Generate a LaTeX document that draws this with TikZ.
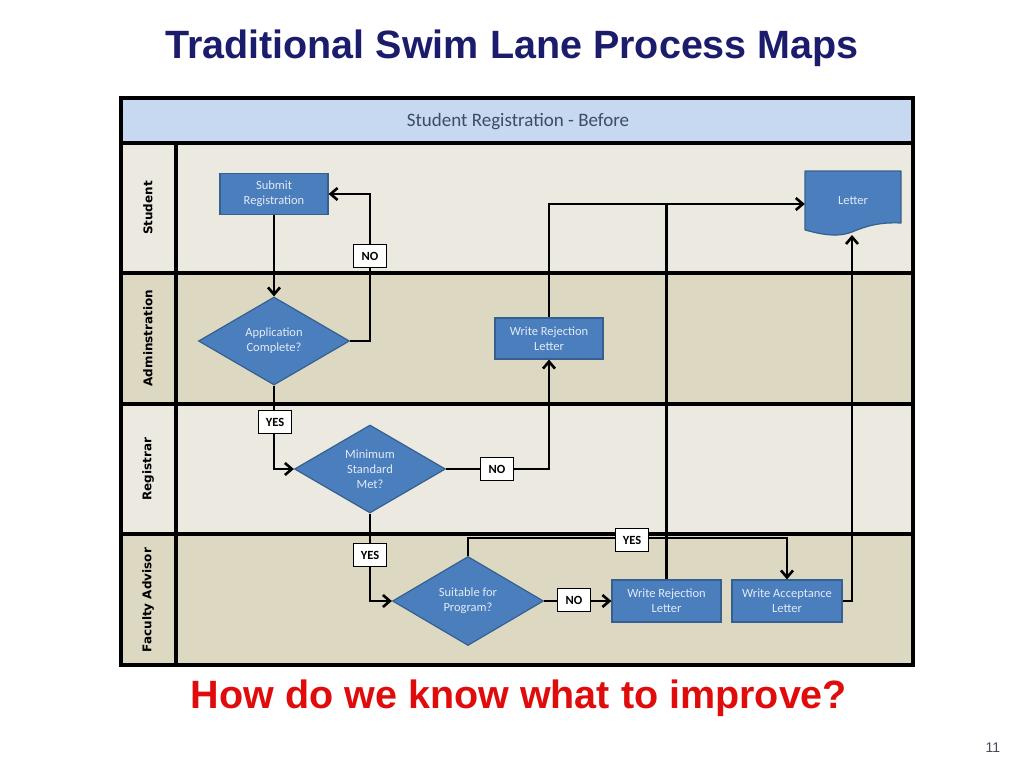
\documentclass[tikz,border=0pt]{standalone}
\usepackage{fontspec}
\setmainfont{Liberation Sans}
\newfontfamily\calib{Carlito}
\newfontfamily\dejav{DejaVu Sans}
\usetikzlibrary{shapes.geometric,arrows.meta}
\definecolor{titleblue}{HTML}{1C1C6C}
\definecolor{askred}{HTML}{E00C0C}
\definecolor{hdrfill}{HTML}{C6D9F0}
\definecolor{hdrtext}{HTML}{3E4C62}
\definecolor{laneA}{HTML}{ECEAE0}
\definecolor{laneB}{HTML}{DCD8C2}
\definecolor{boxfill}{HTML}{4A7EBC}
\definecolor{boxline}{HTML}{36608F}
\definecolor{boxtext}{HTML}{E2EBF7}
\definecolor{pagegray}{HTML}{4A4A5A}
\tikzset{
  procbox/.style={draw=boxline, fill=boxfill, line width=1.2pt, rectangle,
    minimum height=41pt, inner sep=0pt, align=center, text=boxtext,
    font=\calib\fontsize{12.5}{15}\selectfont},
  decision/.style={draw=boxline, fill=boxfill, line width=1.2pt, diamond,
    aspect=1.7, inner sep=0pt, minimum width=151pt, minimum height=88pt,
    align=center, text=boxtext, font=\calib\fontsize{12.5}{15}\selectfont},
  tag/.style={draw=black, fill=white, line width=1.2pt, rectangle,
    minimum width=33pt, minimum height=23pt, inner sep=0pt,
    font=\calib\bfseries\fontsize{12.5}{14}\selectfont},
  lanelabel/.style={rotate=90, font=\dejav\bfseries\fontsize{12}{14}\selectfont},
  conn/.style={draw=black, line width=2.6pt},
  arr/.style={conn, -{Straight Barb[length=7pt,width=12pt,line width=2.6pt]}},
  lanerule/.style={line width=3.5pt, draw=black}
}
\begin{document}
\begin{tikzpicture}[x=1pt,y=-1pt]
\useasboundingbox (0,0) rectangle (1024,768);
\fill[white] (0,0) rectangle (1024,768);

% title
\node[font=\bfseries\fontsize{39.5}{44}\selectfont, text=titleblue] (title) at (512,48) {Traditional Swim Lane Process Maps};

% lanes
\fill[hdrfill] (121,98) rectangle (913,143);
\fill[laneA] (121,143) rectangle (913,273);
\fill[laneB] (121,273) rectangle (913,404);
\fill[laneA] (121,404) rectangle (913,534);
\fill[laneB] (121,534) rectangle (913,665);
\draw[lanerule] (121,143) -- (913,143);
\draw[lanerule] (121,273) -- (913,273);
\draw[lanerule] (121,404) -- (913,404);
\draw[lanerule] (121,534) -- (913,534);
\draw[lanerule] (176,143) -- (176,665);
\draw[line width=4pt] (121,98) rectangle (913,665);

\node[font=\calib\fontsize{19}{22}\selectfont, text=hdrtext] (hdr) at (518,122) {Student Registration - Before};
\node[lanelabel] (lstudent) at (148,208) {Student};
\node[lanelabel] (ladmin) at (148,338) {Adminstration};
\node[lanelabel] (lreg) at (148,469) {Registrar};
\node[lanelabel] (lfac) at (148,600) {Faculty Advisor};

% letter document shape
\draw[draw=boxline, fill=boxfill, line width=1.2pt, line join=round]
  (805,171) -- (901,171) -- (901,223)
  .. controls (880,222) and (866,226) .. (852,232)
  .. controls (836,238) and (820,234) .. (805,230) -- cycle;
\node[rectangle, inner sep=0pt, minimum width=96pt, minimum height=66pt,
  text=boxtext, font=\calib\fontsize{12.5}{15}\selectfont] (letter) at (853,204) {\raisebox{7pt}{Letter}};
\coordinate (letterbottom) at (852,235);

% process nodes
\node[procbox, minimum width=108pt] (submit) at (274,194) {Submit\\Registration};
\node[decision] (app) at (274,341) {Application\\Complete?};
\node[procbox, minimum width=108pt] (rej1) at (549,338.5) {Write Rejection\\Letter};
\node[decision] (minstd) at (370,469) {Minimum\\Standard\\Met?};
\node[decision, minimum height=89pt] (suit) at (468,601) {Suitable for\\Program?};
\node[procbox, minimum width=109pt, minimum height=42pt] (rej2) at (666.5,601) {Write Rejection\\Letter};
\node[procbox, minimum width=110pt, minimum height=42pt] (acc) at (787,601) {Write Acceptance\\Letter};

% connectors
\coordinate (yesbar) at (0,538);
\draw[arr] (submit.south) -- (app.north);
\draw[arr] (app.east) -- ++(20,0) |- (submit.east);
\draw[arr] (app.south) |- (minstd.west);
\draw[arr] (minstd.east) -| (rej1.south);
\draw[arr] (rej1.north) |- (letter.west);
\draw[conn] (rej2.north) -- (rej2.north |- letter.west);
\draw[arr] (minstd.south) |- (suit.west);
\draw[arr] (suit.east) -- (rej2.west);
\draw[arr] (suit.north) |- (yesbar -| acc.north) -- (acc.north);
\draw[arr] (acc.east) -| (letterbottom);

% tags
\node[tag] (no1) at (370,256) {NO};
\node[tag] (yes1) at (275,422) {YES};
\node[tag] (no2) at (497,469) {NO};
\node[tag] (yes2) at (370,555) {YES};
\node[tag] (no3) at (574,600) {NO};
\node[tag] (yes3) at (632,540) {YES};

% bottom question
\node[font=\bfseries\fontsize{39.5}{44}\selectfont, text=askred] (ask) at (519,698) {How do we know what to improve?};
\node[font=\fontsize{14}{16}\selectfont, text=pagegray] (page) at (993,748) {11};
\end{tikzpicture}
\end{document}
